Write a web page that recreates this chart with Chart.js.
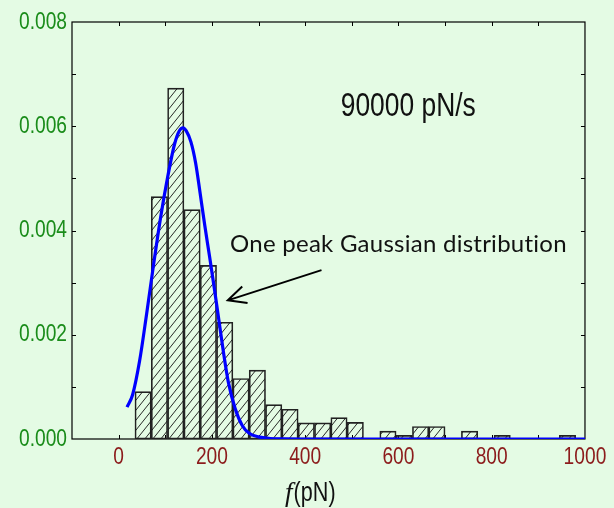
<!DOCTYPE html>
<html>
<head>
<meta charset="utf-8">
<script src="https://cdn.jsdelivr.net/npm/chart.js@4/dist/chart.umd.min.js"></script>
<style>
  html, body { margin: 0; padding: 0; background: #e4fbe4; }
  #wrap { width: 614px; height: 508px; }
</style>
</head>
<body>
<div id="wrap"><canvas id="hist" width="614" height="508"></canvas></div>
<script>
// Histogram of rupture forces at 90000 pN/s with a one-peak Gaussian fit

// bin centres (pN), bin width 35
const binCenters = [52.5, 87.5, 122.5, 157.5, 192.5, 227.5, 262.5, 297.5, 332.5,
    367.5, 402.5, 437.5, 472.5, 507.5, 542.5, 577.5, 612.5, 647.5, 682.5,
    717.5, 752.5, 787.5, 822.5, 857.5, 892.5, 927.5, 962.5];
// probability density per bin
const density = [0.00091, 0.00465, 0.00673, 0.00440, 0.00333, 0.00224, 0.00116,
    0.00132, 0.00066, 0.00057, 0.00031, 0.00031, 0.00041, 0.00032, 0,
    0.00015, 0.00007, 0.00024, 0.00024, 0, 0.00015, 0, 0.00007, 0, 0, 0, 0.00007];

const fitX = [18, 30, 45, 60, 75, 90, 105, 120, 130, 138, 145, 155, 165, 175, 185,
    195, 205, 215, 225, 235, 250, 265, 280, 300, 325, 350, 400, 500, 600, 700, 800, 900, 1000];
const fitY = [0.00061, 0.00085, 0.00150, 0.00240, 0.00335, 0.00425, 0.00502, 0.00566,
    0.00591, 0.00597, 0.00591, 0.00570, 0.00530, 0.00470, 0.00408, 0.00350, 0.00290,
    0.00228, 0.00165, 0.00110, 0.00058, 0.00026, 0.00011, 0.00004, 0.00001, 0.000003,
    0, 0, 0, 0, 0, 0, 0];

const xTickValues = [0, 200, 400, 600, 800, 1000];
const yTickValues = [0, 0.002, 0.004, 0.006, 0.008];

const SANS = "'Liberation Sans', Arial, sans-serif";
const SQUEEZE = 0.8;   // condensed look for the axis numbers

function makeHatch(ctx) {
    const c = document.createElement('canvas');
    c.width = 8; c.height = 10;
    const g = c.getContext('2d');
    g.strokeStyle = '#111';
    g.lineWidth = 0.9;
    g.beginPath();
    for (const dx of [-8, 0, 8]) {
        g.moveTo(dx, 10);
        g.lineTo(dx + 8, 0);
    }
    g.stroke();
    return ctx.createPattern(c, 'repeat');
}

// draws text squeezed horizontally
function narrowText(ctx, text, x, y, size, align) {
    ctx.save();
    ctx.font = size + 'px ' + SANS;
    ctx.textAlign = align;
    ctx.textBaseline = 'middle';
    ctx.translate(x, y);
    ctx.scale(SQUEEZE, 1);
    ctx.fillText(text, 0, 0);
    ctx.restore();
}

// frame with inward ticks on all four sides, labels and annotation
const framePlugin = {
    id: 'frame',
    beforeDatasetsDraw(chart) {
        const { ctx, chartArea: a, scales: { x, y } } = chart;
        ctx.save();
        ctx.strokeStyle = '#000';
        ctx.lineWidth = 1.2;
        ctx.strokeRect(a.left, a.top, a.right - a.left, a.bottom - a.top);
        ctx.lineWidth = 1;
        ctx.beginPath();
        for (let v = 0; v < 1000; v += 100) {
            const px = Math.round(x.getPixelForValue(v)) + 0.5;
            ctx.moveTo(px, a.bottom); ctx.lineTo(px, a.bottom - 4);
            ctx.moveTo(px, a.top); ctx.lineTo(px, a.top + 4);
        }
        for (let v = 0.001; v < 0.008; v += 0.001) {
            const py = Math.round(y.getPixelForValue(v)) + 0.5;
            ctx.moveTo(a.left, py); ctx.lineTo(a.left + 4, py);
            ctx.moveTo(a.right, py); ctx.lineTo(a.right - 4, py);
        }
        ctx.stroke();

        // tick labels
        ctx.fillStyle = '#1a8c1a';
        y.ticks.forEach(t => narrowText(ctx, t.value.toFixed(3), a.left - 5, y.getPixelForValue(t.value), 24, 'right'));
        ctx.fillStyle = '#8c1c1c';
        x.ticks.forEach(t => narrowText(ctx, String(t.value), x.getPixelForValue(t.value), a.bottom + 18, 24, 'center'));
        ctx.restore();
    },
    afterDatasetsDraw(chart) {
        const { ctx, scales: { x, y } } = chart;
        ctx.save();
        ctx.fillStyle = '#111';
        narrowText(ctx, '90000 pN/s', x.getPixelForValue(621), y.getPixelForValue(0.00637), 33, 'center');

        // annotation and arrow
        ctx.font = "24px Lato, 'Open Sans', sans-serif";
        ctx.letterSpacing = '0.25px';
        ctx.textAlign = 'left';
        ctx.textBaseline = 'middle';
        ctx.fillText('One peak Gaussian distribution', x.getPixelForValue(239), y.getPixelForValue(0.00373));
        ctx.letterSpacing = '0px';
        const tx = x.getPixelForValue(435), ty = y.getPixelForValue(0.00324);
        const hx = x.getPixelForValue(234), hy = y.getPixelForValue(0.00266);
        const ang = Math.atan2(ty - hy, tx - hx);
        ctx.strokeStyle = '#000';
        ctx.lineWidth = 2;
        ctx.beginPath();
        ctx.moveTo(tx, ty); ctx.lineTo(hx, hy);
        ctx.moveTo(hx + 20 * Math.cos(ang - 0.45), hy + 20 * Math.sin(ang - 0.45));
        ctx.lineTo(hx, hy);
        ctx.lineTo(hx + 20 * Math.cos(ang + 0.45), hy + 20 * Math.sin(ang + 0.45));
        ctx.stroke();

        // axis title: italic f(pN)
        const cx = x.getPixelForValue(410), cy = 494;
        ctx.font = "italic 27px 'Liberation Serif', serif";
        const fw = ctx.measureText('f').width;
        ctx.font = '27px ' + SANS;
        const rw = ctx.measureText('(pN)').width * SQUEEZE;
        const left = cx - (fw + rw) / 2;
        ctx.font = "italic 27px 'Liberation Serif', serif";
        ctx.fillText('f', left, cy);
        narrowText(ctx, '(pN)', left + fw + 1, cy, 27, 'left');
        ctx.restore();
    }
};

const ctx = document.getElementById('hist').getContext('2d');

new Chart(ctx, {
    type: 'bar',
    data: {
        datasets: [{
            type: 'line',
            data: fitX.map((v, i) => ({ x: v, y: fitY[i] })),
            borderColor: '#0000ff',
            borderWidth: 3.2,
            pointRadius: 0,
            cubicInterpolationMode: 'monotone',
            order: 0
        }, {
            type: 'bar',
            data: binCenters.map((v, i) => ({ x: v, y: density[i] })),
            backgroundColor: makeHatch(ctx),
            borderColor: '#222',
            borderWidth: 1,
            borderSkipped: false,
            barPercentage: 1,
            categoryPercentage: 1,
            order: 1
        }]
    },
    options: {
        responsive: false,
        animation: false,
        layout: { padding: { left: 0, right: 28, top: 22, bottom: 0 } },
        plugins: { legend: { display: false }, tooltip: { enabled: false } },
        scales: {
            x: {
                type: 'linear',
                min: -100,
                max: 1000,
                offset: false,
                grid: { display: false, drawTicks: false },
                border: { display: false },
                afterBuildTicks: s => { s.ticks = xTickValues.map(v => ({ value: v })); },
                afterFit: s => { s.height = 69; },
                ticks: { color: 'rgba(0,0,0,0)', font: { family: SANS, size: 20 }, padding: 4, maxRotation: 0 }
            },
            y: {
                min: 0,
                max: 0.008,
                grid: { display: false, drawTicks: false },
                border: { display: false },
                afterBuildTicks: s => { s.ticks = yTickValues.map(v => ({ value: v })); },
                afterFit: s => { s.width = 72; },
                ticks: { color: 'rgba(0,0,0,0)', font: { family: SANS, size: 20 }, padding: 5, callback: v => v.toFixed(3) }
            }
        }
    },
    plugins: [framePlugin]
});
</script>
</body>
</html>
